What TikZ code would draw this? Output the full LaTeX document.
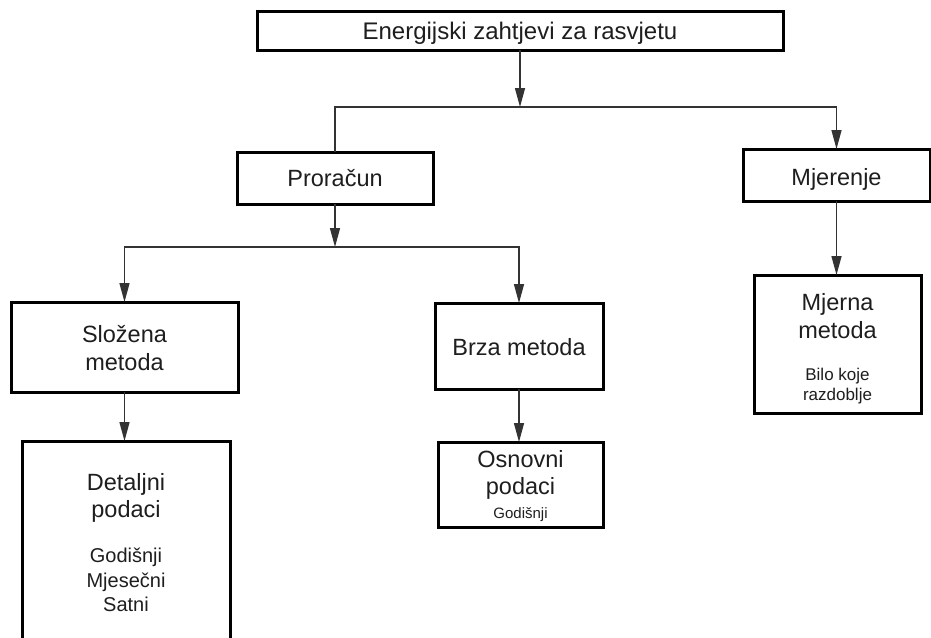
\documentclass[tikz,border=0pt]{standalone}
\usepackage{fontspec}
\setmainfont{Liberation Sans}
\usetikzlibrary{arrows.meta}
\definecolor{ink}{HTML}{1E1E1E}
\definecolor{conn}{HTML}{333333}
\begin{document}
\begin{tikzpicture}[x=1pt,y=-1pt,
  box/.style={draw=black, line width=3pt, fill=white, rectangle, inner sep=0pt, outer sep=0pt},
  arr/.style={draw=conn, line width=1.4pt, -{Triangle[length=19pt,width=10pt]}},
  head/.style={anchor=base, inner sep=0pt, text=ink, font=\fontsize{24}{28}\selectfont},
  big/.style={anchor=base, inner sep=0pt, text=ink, font=\fontsize{23.5}{28}\selectfont},
  mid/.style={anchor=base, inner sep=0pt, text=ink, font=\fontsize{20}{24}\selectfont},
  sml/.style={anchor=base, inner sep=0pt, text=ink, font=\fontsize{17}{20}\selectfont},
  tiny/.style={anchor=base, inner sep=0pt, text=ink, font=\fontsize{15}{18}\selectfont}]
\useasboundingbox (0,0) rectangle (931,637);
\clip (0,0) rectangle (931,637);
\fill[white] (0,0) rectangle (931,637);

% boxes
\node[box, minimum width=526pt, minimum height=39pt] (top) at (520,30.5) {};
\node[box, minimum width=196pt, minimum height=52pt] (pr) at (335,178) {};
\node[box, minimum width=187pt, minimum height=52pt] (mj) at (836.5,175) {};
\node[box, minimum width=227pt, minimum height=90pt] (sl) at (124.5,347) {};
\node[box, minimum width=168pt, minimum height=86pt] (br) at (519,346) {};
\node[box, minimum width=167pt, minimum height=138pt] (mm) at (837.5,344) {};
\node[box, minimum width=208pt, minimum height=209pt] (de) at (126,545.5) {};
\node[box, minimum width=165pt, minimum height=85pt] (os) at (520.5,484.5) {};

% texts
\node[head] (t-top) at (520,39) {Energijski zahtjevi za rasvjetu};
\node[big] (t-pr) at (335,186) {Proračun};
\node[big] (t-mj) at (836.5,185) {Mjerenje};
\node[big] (t-sl1) at (124.5,342) {Složena};
\node[big] (t-sl2) at (124.5,370) {metoda};
\node[big] (t-br) at (519,355) {Brza metoda};
\node[big] (t-mm1) at (837.5,310) {Mjerna};
\node[big] (t-mm2) at (837.5,338) {metoda};
\node[sml] (t-mm3) at (837.5,380) {Bilo koje};
\node[sml] (t-mm4) at (837.5,400) {razdoblje};
\node[big] (t-os1) at (520.5,467) {Osnovni};
\node[big] (t-os2) at (520.5,494) {podaci};
\node[tiny] (t-os3) at (520.5,518) {Godišnji};
\node[big] (t-de1) at (126,490) {Detaljni};
\node[big] (t-de2) at (126,517) {podaci};
\node[mid] (t-de3) at (126,562) {Godišnji};
\node[mid] (t-de4) at (126,587) {Mjesečni};
\node[mid] (t-de5) at (126,611) {Satni};

% connectors
\coordinate (j1) at (520,107);
\coordinate (j2) at (335,247);
\draw[arr] (top.south) -- (j1);
\draw[arr] (pr.north) |- (j1) -| (mj.north);
\draw[arr] (pr.south) -- (j2);
\draw[arr] (j2) -| (sl.north);
\draw[arr] (j2) -| (br.north);
\draw[arr] (sl.south) -- (sl.south |- de.north);
\draw[arr] (br.south) -- (br.south |- os.north);
\draw[arr] (mj.south) -- (mj.south |- mm.north);
\end{tikzpicture}
\end{document}
